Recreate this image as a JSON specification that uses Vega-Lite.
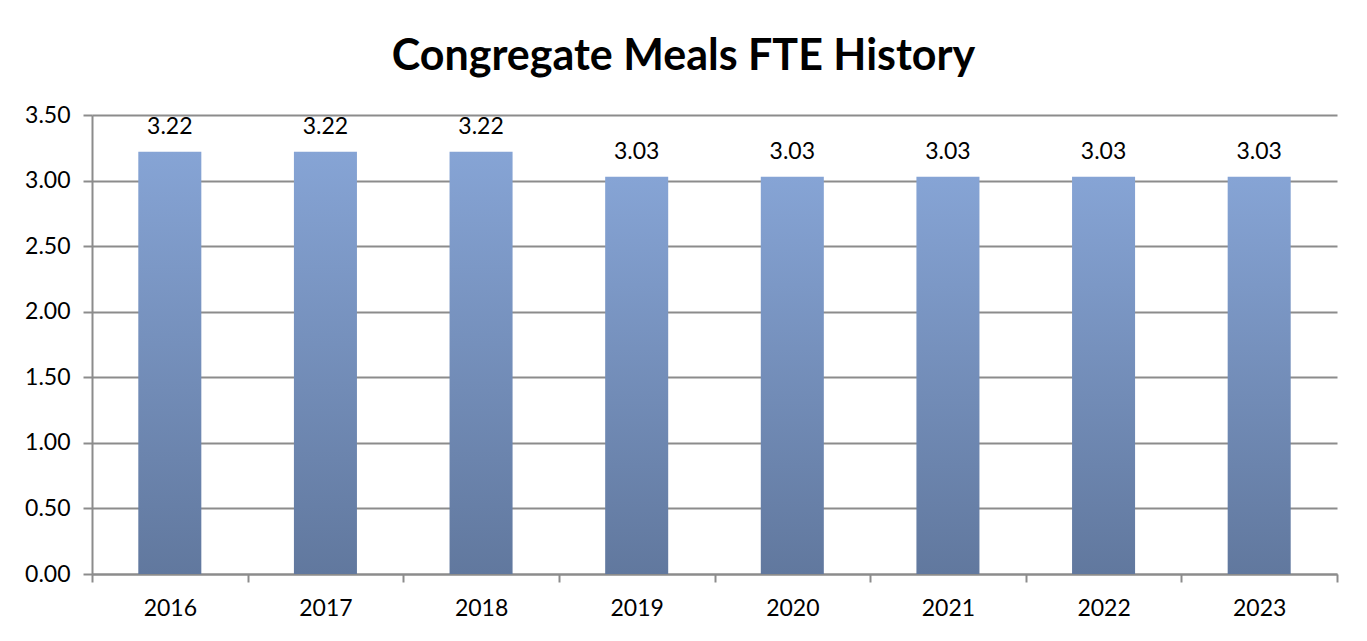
{
  "$schema": "https://vega.github.io/schema/vega-lite/v6.json",
  "width": 1245,
  "height": 459,
  "autosize": {"type": "none"},
  "padding": {"left": 92, "top": 115, "right": 30, "bottom": 67},
  "background": "white",
  "title": {
    "text": "Congregate Meals FTE History",
    "font": "Lato",
    "fontSize": 43,
    "fontWeight": "bold",
    "color": "#000000",
    "anchor": "middle",
    "baseline": "alphabetic",
    "offset": -9,
    "dx": -31
  },
  "data": {
    "values": [
      {"year": "2016", "fte": 3.22},
      {"year": "2017", "fte": 3.22},
      {"year": "2018", "fte": 3.22},
      {"year": "2019", "fte": 3.03},
      {"year": "2020", "fte": 3.03},
      {"year": "2021", "fte": 3.03},
      {"year": "2022", "fte": 3.03},
      {"year": "2023", "fte": 3.03}
    ]
  },
  "encoding": {
    "x": {
      "field": "year",
      "type": "nominal",
      "sort": null,
      "scale": {"paddingInner": 0, "paddingOuter": 0},
      "axis": {
        "title": null,
        "labelAngle": 0,
        "labelFont": "Lato",
        "labelFontSize": 23,
        "labelColor": "#000000",
        "labelPadding": 15,
        "tickBand": "extent",
        "tickSize": 8,
        "tickWidth": 2,
        "tickColor": "#8c8c8c",
        "domainColor": "#8c8c8c",
        "domainWidth": 2,
        "grid": false
      }
    },
    "y": {
      "field": "fte",
      "type": "quantitative",
      "scale": {"domain": [0, 3.5], "nice": false},
      "axis": {
        "title": null,
        "values": [0, 0.5, 1, 1.5, 2, 2.5, 3, 3.5],
        "format": ".2f",
        "labelFont": "Lato",
        "labelFontSize": 23,
        "labelColor": "#000000",
        "labelPadding": 13,
        "tickSize": 9,
        "tickWidth": 2,
        "tickColor": "#8c8c8c",
        "domainColor": "#8c8c8c",
        "domainWidth": 2,
        "grid": true,
        "gridColor": "#8c8c8c",
        "gridWidth": 2
      }
    }
  },
  "layer": [
    {
      "mark": {
        "type": "bar",
        "width": {"band": 0.405},
        "color": {
          "gradient": "linear",
          "x1": 0, "y1": 0, "x2": 0, "y2": 1,
          "stops": [
            {"offset": 0, "color": "#86a4d5"},
            {"offset": 1, "color": "#61789e"}
          ]
        }
      }
    },
    {
      "mark": {
        "type": "text",
        "baseline": "alphabetic",
        "dy": -18,
        "font": "Lato",
        "fontSize": 23,
        "color": "#000000"
      },
      "encoding": {
        "text": {"field": "fte", "type": "quantitative", "format": ".2f"}
      }
    }
  ],
  "config": {"view": {"stroke": null}}
}
